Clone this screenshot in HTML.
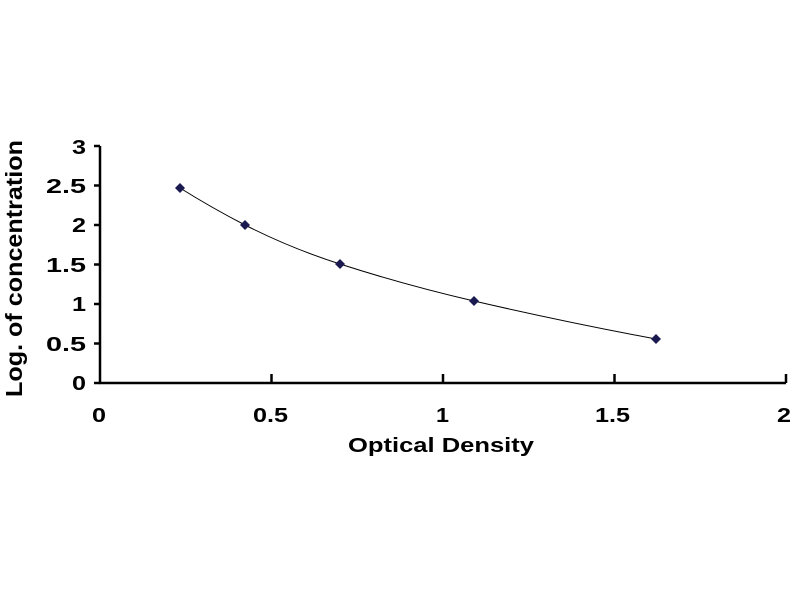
<!DOCTYPE html><html><head><style>body{margin:0;background:#fff}</style></head><body>
<svg width="800" height="600" xmlns="http://www.w3.org/2000/svg" font-family="Liberation Sans, Arial, sans-serif" font-weight="bold">
<rect width="800" height="600" fill="#fff"/>
<g stroke="#000" stroke-width="2.5" fill="none">
<line x1="100" y1="146" x2="100" y2="384"/>
<line x1="99" y1="383" x2="786" y2="383"/>
<line x1="94" y1="146" x2="100" y2="146"/><line x1="94" y1="185.5" x2="100" y2="185.5"/>
<line x1="94" y1="225" x2="100" y2="225"/><line x1="94" y1="264.5" x2="100" y2="264.5"/>
<line x1="94" y1="304" x2="100" y2="304"/><line x1="94" y1="343.5" x2="100" y2="343.5"/>
<line x1="94" y1="383" x2="100" y2="383"/>
<line x1="271.5" y1="374" x2="271.5" y2="383"/><line x1="443" y1="374" x2="443" y2="383"/>
<line x1="614.5" y1="374" x2="614.5" y2="383"/><line x1="786" y1="374" x2="786" y2="383"/>
</g>
<g font-size="20" text-anchor="end">
<text x="86" y="154" textLength="14" lengthAdjust="spacingAndGlyphs">3</text>
<text x="86" y="193" textLength="40" lengthAdjust="spacingAndGlyphs">2.5</text>
<text x="86" y="232" textLength="14" lengthAdjust="spacingAndGlyphs">2</text>
<text x="86" y="272" textLength="40" lengthAdjust="spacingAndGlyphs">1.5</text>
<text x="86" y="311" textLength="14" lengthAdjust="spacingAndGlyphs">1</text>
<text x="86" y="351" textLength="40" lengthAdjust="spacingAndGlyphs">0.5</text>
<text x="86" y="390" textLength="14" lengthAdjust="spacingAndGlyphs">0</text>
</g>
<g font-size="20">
<text x="92" y="422" textLength="14" lengthAdjust="spacingAndGlyphs">0</text>
<text x="253" y="422" textLength="35" lengthAdjust="spacingAndGlyphs">0.5</text>
<text x="436" y="422" textLength="13" lengthAdjust="spacingAndGlyphs">1</text>
<text x="595" y="422" textLength="35" lengthAdjust="spacingAndGlyphs">1.5</text>
<text x="777" y="422" textLength="14" lengthAdjust="spacingAndGlyphs">2</text>
</g>
<text x="348" y="452" font-size="20" textLength="186" lengthAdjust="spacingAndGlyphs">Optical Density</text>
<text transform="translate(22,397) rotate(-90)" font-size="23" textLength="257" lengthAdjust="spacingAndGlyphs">Log. of concentration</text>
<path d="M180,188 Q212,208 245,225 Q290,248 340,264 Q405,285 474,301 Q565,322 656,339" stroke="#000" stroke-width="1" fill="none"/>
<g fill="#1a1a50">
<path d="M180,183l5,5l-5,5l-5,-5z"/><path d="M245,220l5,5l-5,5l-5,-5z"/>
<path d="M340,259l5,5l-5,5l-5,-5z"/><path d="M474,296l5,5l-5,5l-5,-5z"/>
<path d="M656,334l5,5l-5,5l-5,-5z"/>
</g>
</svg></body></html>
